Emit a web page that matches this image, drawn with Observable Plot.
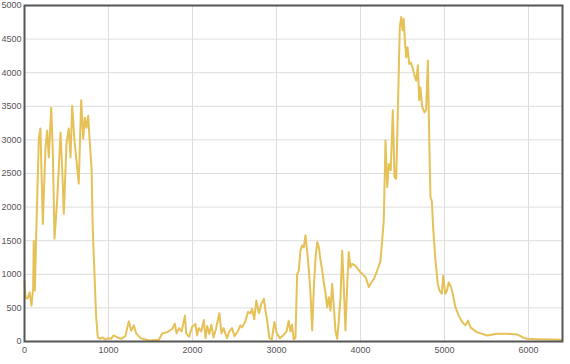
<!DOCTYPE html>
<html>
<head>
<meta charset="utf-8">
<script src="https://cdn.jsdelivr.net/npm/d3@7"></script>
<script src="https://cdn.jsdelivr.net/npm/@observablehq/plot@0.6"></script>
<style>
  html, body { margin: 0; padding: 0; background: #fff; }
  #chart svg { display: block; }
</style>
</head>
<body>
<div id="chart"></div>
<script>
const xs = [0,12,36,60,83,103,110,123,143,171,190,218,250,270,289,318,337,357,389,429,448,468,500,527,548,568,595,627,646,675,699,718,738,758,774,798,813,833,853,873,900,930,960,1000,1030,1060,1110,1150,1200,1242,1270,1302,1330,1380,1480,1600,1640,1700,1760,1790,1810,1840,1870,1910,1925,1960,1995,2035,2055,2075,2105,2135,2155,2175,2200,2225,2250,2280,2320,2345,2370,2410,2440,2470,2500,2540,2570,2590,2630,2660,2690,2710,2735,2760,2790,2820,2850,2870,2890,2915,2945,2975,3005,3040,3080,3120,3145,3165,3185,3205,3226,3246,3265,3285,3305,3325,3345,3365,3385,3405,3425,3445,3465,3485,3505,3525,3545,3565,3585,3603,3623,3643,3663,3683,3702,3722,3742,3762,3782,3802,3821,3841,3860,3880,3900,3940,4000,4060,4100,4130,4160,4200,4238,4258,4277,4298,4318,4338,4360,4385,4405,4425,4445,4468,4485,4500,4515,4528,4544,4560,4580,4600,4623,4647,4663,4683,4699,4714,4734,4762,4782,4802,4818,4833,4849,4865,4893,4920,4940,4968,4985,5010,5030,5050,5078,5100,5130,5170,5210,5250,5280,5310,5385,5510,5625,5745,5865,5944,5985,6100,6250,6400];
const ys = [900,650,640,730,535,800,1500,760,1750,3030,3170,1750,2890,3140,2740,3480,2840,1530,2100,3110,2590,1900,2950,3170,2740,3510,2990,2590,2350,3590,3020,3330,3180,3360,3020,2590,1650,1010,360,60,40,60,30,50,40,90,60,40,80,300,160,240,120,50,15,25,120,140,190,265,120,200,150,385,120,70,215,260,90,200,150,320,50,230,110,250,60,190,420,120,200,50,150,200,80,150,240,210,300,440,420,485,330,610,420,560,635,450,300,50,30,290,120,50,90,150,310,150,250,30,60,1000,1050,1350,1430,1400,1580,1350,1060,710,165,810,1250,1480,1400,1200,1060,860,710,510,660,460,860,510,165,40,310,660,1350,810,165,810,1330,1100,1155,1130,1030,960,810,880,930,1060,1200,1500,1800,2990,2300,2640,2550,3440,2445,2420,3440,4680,4830,4630,4800,4480,4230,4380,4130,4150,4060,3940,3880,4110,3590,3780,3490,3410,3450,4180,3040,2150,2090,1700,1200,860,760,710,980,710,760,880,810,700,510,385,290,240,310,210,140,90,115,115,105,55,40,35,30,25];
const xTicks = [0,1000,2000,3000,4000,5000,6000];
const yTicks = [0,500,1000,1500,2000,2500,3000,3500,4000,4500,5000];

const data = xs.map((x, i) => ({x, y: ys[i]}));

const chart = Plot.plot({
  width: 570,
  height: 364,
  marginLeft: 24,
  marginRight: 8,
  marginTop: 5,
  marginBottom: 23,
  style: {fontFamily: "'Liberation Sans', Arial, sans-serif", fontSize: "9px", color: "#555", background: "#fff"},
  x: {domain: [0, 6405]},
  y: {domain: [0, 5000]},
  marks: [
    Plot.gridX(xTicks, {stroke: "#ddd", strokeOpacity: 1, strokeWidth: 1}),
    Plot.gridY(yTicks, {stroke: "#ddd", strokeOpacity: 1, strokeWidth: 1}),
    Plot.axisX(xTicks, {tickSize: 0, tickPadding: 5, label: null, fill: "#555", fontSize: 9, tickFormat: d => String(d)}),
    Plot.axisY(yTicks, {tickSize: 0, tickPadding: 3, label: null, fill: "#555", fontSize: 9, tickFormat: d => String(d)}),
    Plot.line(data, {x: "x", y: "y", stroke: "#E5C158", strokeWidth: 2, strokeLinejoin: "round"}),
    Plot.frame({stroke: "#555", strokeWidth: 2})
  ]
});
document.getElementById("chart").appendChild(chart);
</script>
</body>
</html>
